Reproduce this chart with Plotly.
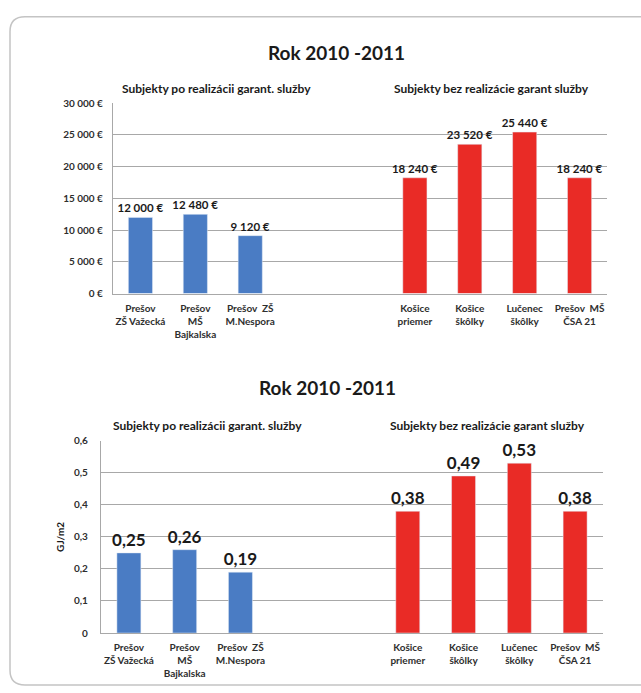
import plotly.graph_objects as go

# --- data -------------------------------------------------------------
labels_after = ["Prešov<br>ZŠ Važecká", "Prešov<br>MŠ<br>Bajkalska", "Prešov\u00a0 ZŠ<br>M.Nespora"]
labels_before = ["Košice<br>priemer", "Košice<br>škôlky", "Lučenec<br>škôlky", "Prešov\u00a0 MŠ<br>ČSA 21"]

cost_after = [12000, 12480, 9120]
cost_before = [18240, 23520, 25440, 18240]

energy_after = [0.25, 0.26, 0.19]
energy_before = [0.38, 0.49, 0.53, 0.38]

cost_ticks = [0, 5000, 10000, 15000, 20000, 25000, 30000]
energy_ticks = [0, 0.1, 0.2, 0.3, 0.4, 0.5, 0.6]

title_text = "Rok 2010 -2011"
group_after = "Subjekty po realizácii garant. služby"
group_before = "Subjekty bez realizácie garant služby"
energy_unit = "GJ/m2"

# --- layout helpers ---------------------------------------------------
W, H = 641, 693
GAP_SLOTS = 2
FONT = "Lato, Carlito, Calibri, sans-serif"
BLUE = "#4a7cc4"
RED = "#e92b26"
GRID = "#a8a8a8"
TXT = "#1a1a1a"
TICK = "#2e2e2e"

x_after = list(range(len(labels_after)))
x_before = [len(labels_after) + GAP_SLOTS + i for i in range(len(labels_before))]
n_slots = len(labels_after) + GAP_SLOTS + len(labels_before)


def px_x(v):
    return v / W


def px_y(v):
    return (H - v) / H


def fmt_eur(v):
    return f"{v:,.0f}".replace(",", "\u00a0") + "\u00a0€"


def fmt_dec(v):
    return f"{v:.2f}".replace(".", ",")


def fmt_tick_eur(v):
    return f"{v:,.0f}".replace(",", " ") + " €"


def fmt_tick_dec(v):
    return "0" if v == 0 else f"{v:.1f}".replace(".", ",")


def bars(x, y, color, width, labels, size, xa, ya):
    return go.Bar(x=x, y=y, marker_color=color, width=width,
                  text=labels, textposition="outside", constraintext="none",
                  textfont=dict(family=FONT, size=size, color=TXT, weight="bold"),
                  cliponaxis=False, xaxis=xa, yaxis=ya, showlegend=False,
                  hoverinfo="skip")


fig = go.Figure()

# top panel: costs
fig.add_trace(bars(x_after, cost_after, BLUE, 0.44,
                   [fmt_eur(v) for v in cost_after], 11.5, "x", "y"))
fig.add_trace(bars(x_before, cost_before, RED, 0.44,
                   [fmt_eur(v) for v in cost_before], 11.5, "x", "y"))

# bottom panel: specific energy consumption
fig.add_trace(bars(x_after, energy_after, BLUE, 0.43,
                   [fmt_dec(v) for v in energy_after], 17, "x2", "y2"))
fig.add_trace(bars(x_before, energy_before, RED, 0.43,
                   [fmt_dec(v) for v in energy_before], 17, "x2", "y2"))

tickvals_x = x_after + x_before
ticktext_x = labels_after + labels_before

xcommon = dict(range=[-0.5, n_slots - 0.5], tickvals=tickvals_x, ticktext=ticktext_x,
               showgrid=False, showline=True, linecolor=GRID, linewidth=1.3,
               ticks="", zeroline=False, ticklabelstandoff=5,
               tickfont=dict(family=FONT, size=10, color=TICK, weight="bold"))
ycommon = dict(showgrid=True, gridcolor=GRID, gridwidth=1.3, showline=True,
               linecolor=GRID, linewidth=1.3, zeroline=False, ticks="",
               tickfont=dict(family=FONT, size=10, color=TICK, weight="bold"))

fig.update_layout(
    width=W, height=H,
    margin=dict(l=0, r=0, t=0, b=0),
    paper_bgcolor="white", plot_bgcolor="white",
    xaxis=dict(xcommon, domain=[px_x(113), px_x(607)], anchor="y"),
    yaxis=dict(ycommon, domain=[px_y(292), px_y(98)], range=[0, 30000],
               tickvals=cost_ticks, ticktext=[fmt_tick_eur(v) for v in cost_ticks],
               ticklabelstandoff=7, anchor="x"),
    xaxis2=dict(xcommon, domain=[px_x(101), px_x(603)], anchor="y2"),
    yaxis2=dict(ycommon, domain=[px_y(638), px_y(442)], range=[0, 0.6],
                tickvals=energy_ticks, ticktext=[fmt_tick_dec(v) for v in energy_ticks],
                ticklabelstandoff=10, anchor="x2",
                title=dict(text=energy_unit, standoff=7,
                           font=dict(family=FONT, size=10, color=TXT, weight="bold"))),
)

# headings
heads = [
    (title_text, 336, 46, 19),
    (group_after, 216, 83, 12),
    (group_before, 491, 83, 12),
    (title_text, 327, 388, 19),
    (group_after, 207, 427, 12),
    (group_before, 487, 427, 12),
]
for text, cx, cy, size in heads:
    fig.add_annotation(x=px_x(cx), y=px_y(cy), xref="paper", yref="paper",
                       text=text, showarrow=False, xanchor="center", yanchor="middle",
                       font=dict(family=FONT, size=size, color=TXT, weight="bold"))

# rounded frame around the page content (open to the right)
x0, y0, x1, y1, r = 10, 10, 641, 691, 15
path = (f"M {px_x(x1)},{px_y(y0)} "
        f"L {px_x(x0 + r)},{px_y(y0)} "
        f"Q {px_x(x0)},{px_y(y0)} {px_x(x0)},{px_y(y0 + r)} "
        f"L {px_x(x0)},{px_y(y1 - r)} "
        f"Q {px_x(x0)},{px_y(y1)} {px_x(x0 + r)},{px_y(y1)} "
        f"L {px_x(x1)},{px_y(y1)}")
fig.add_shape(type="path", path=path, xref="paper", yref="paper",
              line=dict(color="#c4c4c4", width=1.5), layer="below")

fig.write_html("out.html")
